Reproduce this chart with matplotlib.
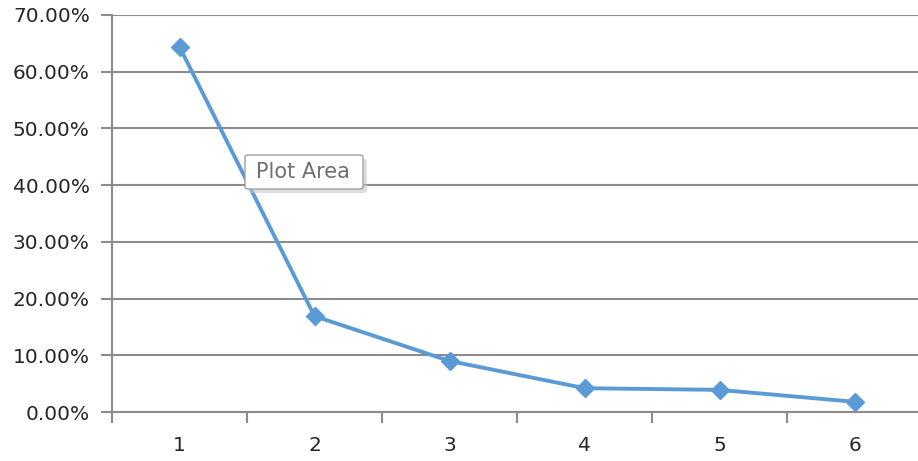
import matplotlib
matplotlib.use("Agg")
import matplotlib.pyplot as plt
from matplotlib.ticker import FuncFormatter, FixedLocator
from matplotlib.patches import FancyBboxPatch

categories = ["1", "2", "3", "4", "5", "6"]
shares = [0.644, 0.169, 0.090, 0.042, 0.039, 0.018]
y_ticks = [0.0, 0.1, 0.2, 0.3, 0.4, 0.5, 0.6, 0.7]

line_color = "#5B9BD5"
grid_color = "#8C8C8C"
text_color = "#262626"

fig = plt.figure(figsize=(9.18, 4.61), dpi=100)
ax = fig.add_axes([112 / 918, 49 / 461, 810 / 918, 397 / 461])

x = list(range(1, len(categories) + 1))
ax.plot(x, shares, color=line_color, lw=2.8, marker="D", ms=9,
        mfc=line_color, mec=line_color, zorder=3, clip_on=False)

ax.set_xlim(0.5, len(categories) + 0.5)
ax.set_ylim(0, 0.7)
ax.set_yticks(y_ticks)
ax.yaxis.set_major_formatter(FuncFormatter(lambda v, p: f"{v * 100:.2f}%"))
ax.set_xticks(x)
ax.set_xticklabels(categories)
ax.xaxis.set_minor_locator(FixedLocator([i + 0.5 for i in range(0, len(categories) + 1)]))

ax.grid(axis="y", color=grid_color, lw=1.5, zorder=1)
for side in ("top", "right"):
    ax.spines[side].set_visible(False)
for side in ("left", "bottom"):
    ax.spines[side].set_color(grid_color)
    ax.spines[side].set_linewidth(1.5)

ax.tick_params(axis="y", which="major", length=8, width=1.5, color=grid_color,
               labelsize=14.5, labelcolor=text_color, pad=8)
ax.tick_params(axis="x", which="major", length=0, labelsize=14.5,
               labelcolor=text_color, pad=17)
ax.tick_params(axis="x", which="minor", length=8, width=1.5, color=grid_color)

# hover tooltip box
shadow = FancyBboxPatch((249 / 918, 1 - 193 / 461), 118 / 918, 34 / 461,
                        boxstyle="round,pad=0,rounding_size=0.004",
                        transform=fig.transFigure, fc="#C8C8C8", ec="none",
                        alpha=0.6, zorder=5)
fig.patches.append(shadow)
box = FancyBboxPatch((245 / 918, 1 - 189 / 461), 118 / 918, 34 / 461,
                     boxstyle="round,pad=0,rounding_size=0.004",
                     transform=fig.transFigure, fc="#FFFFFF", ec="#A0A0A0",
                     lw=1.0, zorder=6)
fig.patches.append(box)
fig.text(303 / 918, 1 - 172 / 461, "Plot Area", ha="center", va="center",
         fontsize=15, color="#707070", zorder=7)

fig.savefig("out.png", dpi=100)
